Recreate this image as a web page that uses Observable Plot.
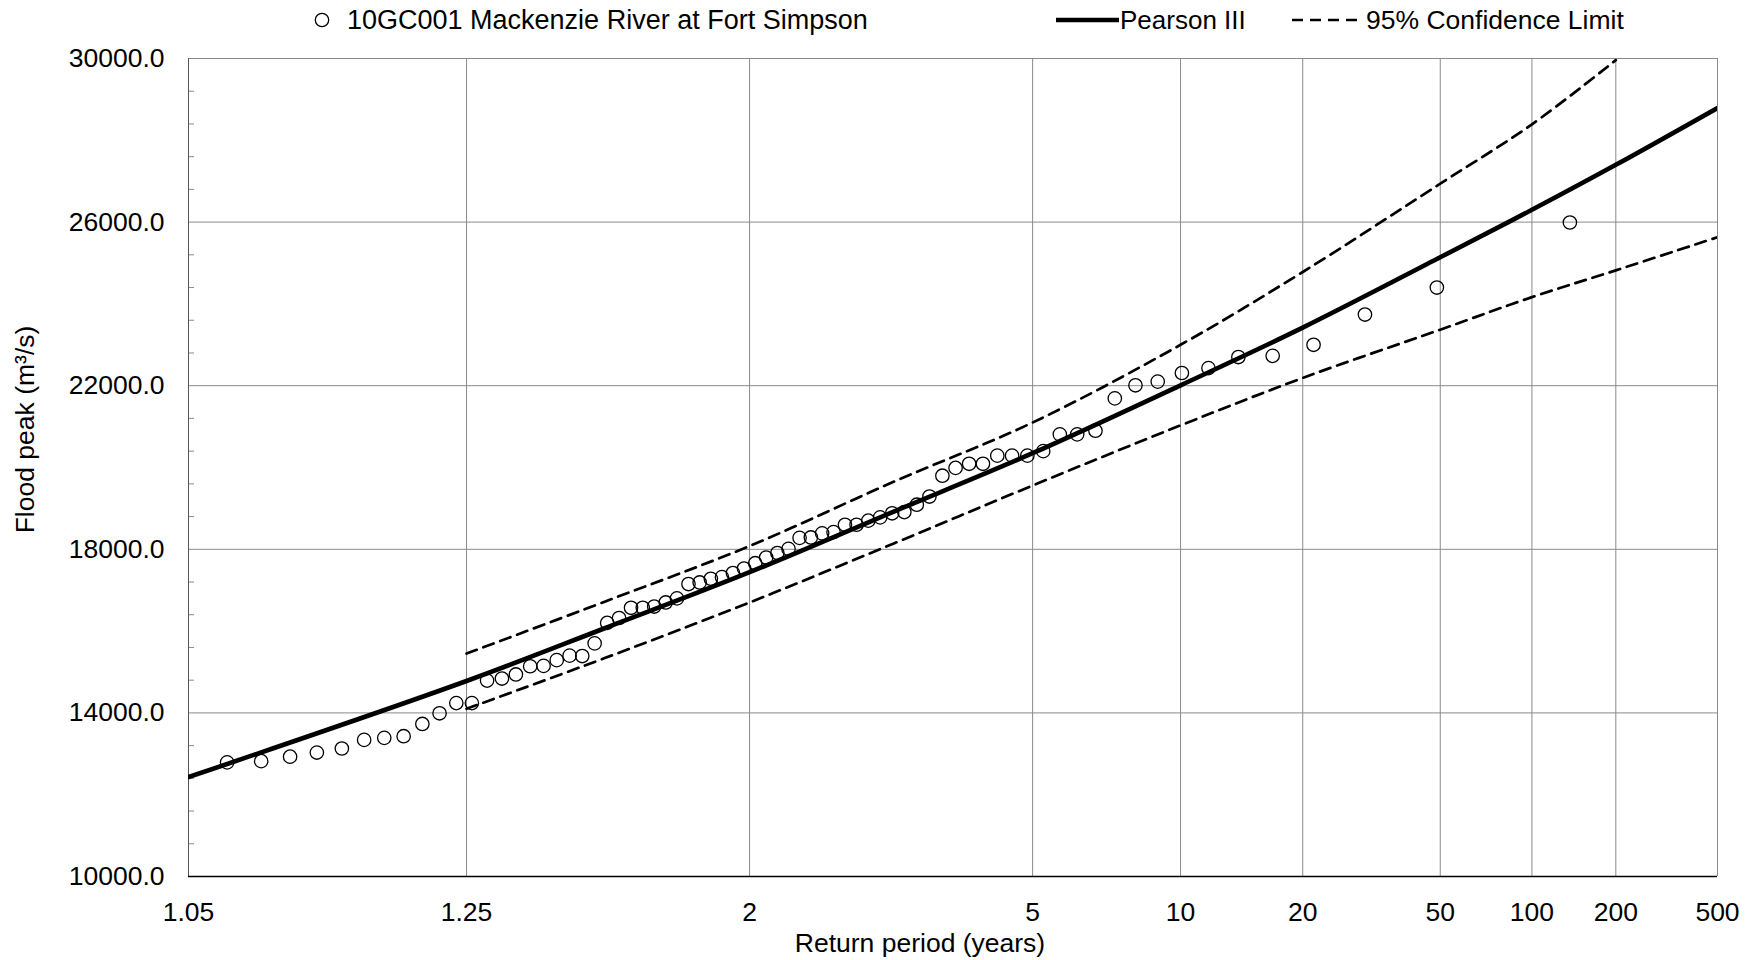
<!DOCTYPE html>
<html>
<head>
<meta charset="utf-8">
<script src="https://cdn.jsdelivr.net/npm/d3@7"></script>
<script src="https://cdn.jsdelivr.net/npm/@observablehq/plot@0.6"></script>
<style>
  body { margin: 0; background: #fff; font-family: "Liberation Sans", Arial, sans-serif; }
  #wrap { width: 1749px; height: 960px; position: relative; }
  #legend { display: block; }
</style>
</head>
<body>
<div id="wrap">
  <svg id="legend" width="1749" height="40" font-family="Liberation Sans, Arial, sans-serif" font-size="27">
    <circle cx="322" cy="20" r="6.7" fill="none" stroke="#000" stroke-width="1.3"></circle>
    <text x="347" y="20" dy="0.35em">10GC001 Mackenzie River at Fort Simpson</text>
    <line x1="1056" x2="1119" y1="20" y2="20" stroke="#000" stroke-width="4.5"></line>
    <text x="1120" y="20" dy="0.35em" font-size="26">Pearson III</text>
    <line x1="1292" x2="1364" y1="20" y2="20" stroke="#000" stroke-width="2.7" stroke-dasharray="11,7"></line>
    <text x="1366" y="20" dy="0.35em" font-size="26.5">95% Confidence Limit</text>
  </svg>
  <div id="chart"></div>
</div>
<script>
// ---- Data ----
const observedT = [1.064, 1.079, 1.094, 1.110, 1.127, 1.144, 1.161, 1.179, 1.198, 1.217, 1.237, 1.257,
  1.278, 1.300, 1.322, 1.346, 1.370, 1.395, 1.421, 1.448, 1.476, 1.506, 1.536,
  1.568, 1.601, 1.635, 1.671, 1.708, 1.748, 1.789, 1.832, 1.877, 1.924, 1.974,
  2.027, 2.082, 2.141, 2.203, 2.268, 2.338, 2.412, 2.491, 2.575, 2.665, 2.762, 2.866, 2.978,
  3.099, 3.231, 3.374, 3.531, 3.702, 3.892, 4.101, 4.335, 4.597, 4.892, 5.228, 5.614, 6.061, 6.585, 7.208, 7.962, 8.893, 10.07,
  11.60, 13.69, 16.69, 21.38, 29.73, 48.80, 135.9];
const observedQ = [12790, 12820, 12930, 13030, 13130, 13340, 13390, 13430, 13730, 13990,
  14240, 14240, 14790, 14840, 14940, 15140, 15150, 15290, 15400, 15390,
  15700, 16200, 16320, 16570, 16570, 16600, 16700, 16800, 17150, 17190,
  17280, 17320, 17420, 17530, 17660, 17800, 17910, 18010, 18280, 18290,
  18390, 18420, 18600, 18600, 18700, 18780, 18880, 18910, 19090, 19290,
  19800, 19990, 20090, 20090, 20290, 20290, 20290, 20400, 20810, 20810,
  20900, 21690, 22010, 22100, 22310, 22430, 22700, 22730, 23000, 23740,
  24400, 25990];

const pearsonT = [1.05, 1.25, 1.5, 2, 3, 5, 10, 20, 50, 100, 200, 500];
const pearsonQ = [12430, 14780, 16070, 17440, 18930, 20350, 22010, 23420, 25140, 26300, 27400, 28790];

const upperT = [1.25, 1.5, 2, 3, 5, 10, 20, 50, 100, 200];
const upperQ = [15450, 16720, 18080, 19660, 21100, 23000, 24780, 26940, 28390, 29960];

const lowerT = [1.25, 1.5, 2, 3, 5, 10, 20, 50, 100, 200, 500];
const lowerQ = [14100, 15340, 16700, 18150, 19560, 21030, 22190, 23370, 24165, 24820, 25630];

const xTickT = [1.05, 1.25, 2, 5, 10, 20, 50, 100, 200, 500];
const xTickLabels = ["1.05", "1.25", "2", "5", "10", "20", "50", "100", "200", "500"];
const yTicks = [10000, 14000, 18000, 22000, 26000, 30000];
const yMinorStep = 800;

// ---- Normal probability (probit) transform for return period axis ----
function probit(p) {
  const a = [-3.969683028665376e+01, 2.209460984245205e+02, -2.759285104469687e+02, 1.383577518672690e+02, -3.066479806614716e+01, 2.506628277459239e+00];
  const b = [-5.447609879822406e+01, 1.615858368580409e+02, -1.556989798598866e+02, 6.680131188771972e+01, -1.328068155288572e+01];
  const c = [-7.784894002430293e-03, -3.223964580411365e-01, -2.400758277161838e+00, -2.549732539343734e+00, 4.374664141464968e+00, 2.938163982698783e+00];
  const d = [7.784695709041462e-03, 3.224671290700398e-01, 2.445134137142996e+00, 3.754408661907416e+00];
  const pl = 0.02425, ph = 1 - pl;
  let q, r;
  if (p < pl) {
    q = Math.sqrt(-2 * Math.log(p));
    return (((((c[0]*q+c[1])*q+c[2])*q+c[3])*q+c[4])*q+c[5]) / ((((d[0]*q+d[1])*q+d[2])*q+d[3])*q+1);
  }
  if (p > ph) {
    q = Math.sqrt(-2 * Math.log(1 - p));
    return -(((((c[0]*q+c[1])*q+c[2])*q+c[3])*q+c[4])*q+c[5]) / ((((d[0]*q+d[1])*q+d[2])*q+d[3])*q+1);
  }
  q = p - 0.5; r = q * q;
  return (((((a[0]*r+a[1])*r+a[2])*r+a[3])*r+a[4])*r+a[5])*q / (((((b[0]*r+b[1])*r+b[2])*r+b[3])*r+b[4])*r+1);
}
const zOf = T => probit(1 - 1 / T);

const obs = observedT.map((T, i) => ({z: zOf(T), q: observedQ[i]}));
const pearson = pearsonT.map((T, i) => ({z: zOf(T), q: pearsonQ[i]}));
const upper = upperT.map((T, i) => ({z: zOf(T), q: upperQ[i]}));
const lower = lowerT.map((T, i) => ({z: zOf(T), q: lowerQ[i]}));
const zTicks = xTickT.map(zOf);
const zMin = zTicks[0], zMax = zTicks[zTicks.length - 1];
const yMinor = d3.range(yTicks[0], yTicks[yTicks.length - 1] + 1, yMinorStep).filter(v => !yTicks.includes(v));
const xLabel = z => xTickLabels[zTicks.findIndex(t => Math.abs(t - z) < 1e-9)];

const chart = Plot.plot({
  width: 1749,
  height: 920,
  marginTop: 18,
  marginBottom: 84,
  marginLeft: 188,
  marginRight: 32,
  style: {fontFamily: "Liberation Sans, Arial, sans-serif", fontSize: "26.5px", color: "#000", background: "#fff"},
  x: {domain: [zMin, zMax], axis: null},
  y: {domain: [yTicks[0], yTicks[yTicks.length - 1]], axis: null},
  marks: [
    Plot.gridX(zTicks, {stroke: "#8a8a8a", strokeOpacity: 1, strokeWidth: 1}),
    Plot.gridY(yTicks, {stroke: "#8a8a8a", strokeOpacity: 1, strokeWidth: 1}),
    Plot.axisY(yMinor, {anchor: "left", tickSize: 6, dx: 6, tickFormat: () => "", stroke: "#8a8a8a", label: null}),
    Plot.axisY(yTicks, {anchor: "left", tickSize: 0, tickPadding: 24, tickFormat: d3.format(".1f"), label: null, fontSize: 26.5}),
    Plot.axisX(zTicks, {anchor: "bottom", tickSize: 0, tickPadding: 26, tickFormat: xLabel, label: null, fontSize: 26.5}),
    Plot.ruleX([zMin], {stroke: "#555", strokeWidth: 1}),
    Plot.ruleY([yTicks[0]], {stroke: "#000", strokeWidth: 1.6}),
    Plot.line(upper, {x: "z", y: "q", stroke: "#000", strokeWidth: 2.7, strokeDasharray: "11,7", curve: "catmull-rom", clip: true}),
    Plot.line(lower, {x: "z", y: "q", stroke: "#000", strokeWidth: 2.7, strokeDasharray: "11,7", curve: "catmull-rom", clip: true}),
    Plot.line(pearson, {x: "z", y: "q", stroke: "#000", strokeWidth: 4.6, curve: "catmull-rom", clip: true}),
    Plot.dot(obs, {x: "z", y: "q", r: 6.7, stroke: "#000", strokeWidth: 1.3, fill: "none"}),
    Plot.text(["Flood peak (m³/s)"], {frameAnchor: "left", textAnchor: "middle", dx: -163, dy: -38, rotate: -90, fontSize: 26.5, fill: "#000"}),
    Plot.text(["Return period (years)"], {frameAnchor: "bottom", textAnchor: "middle", dx: -33, dy: 75, fontSize: 26.5, fill: "#000"})
  ]
});
document.getElementById("chart").appendChild(chart);
</script>
</body>
</html>
